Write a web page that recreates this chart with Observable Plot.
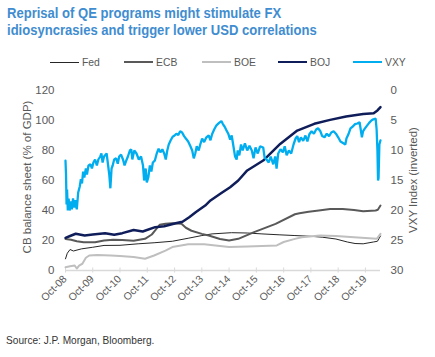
<!DOCTYPE html>
<html><head><meta charset="utf-8">
<script src="https://cdn.jsdelivr.net/npm/d3@7"></script>
<script src="https://cdn.jsdelivr.net/npm/@observablehq/plot@0.6"></script>
<style>
body{margin:0;background:#fff;width:435px;height:357px;position:relative;overflow:hidden;font-family:"Liberation Sans",Arial,sans-serif;}
#title{position:absolute;left:7px;top:5px;font-weight:bold;font-size:15px;line-height:16.5px;color:#3f8dd0;white-space:nowrap;transform:scaleX(0.87);transform-origin:0 0;}
#legend{position:absolute;left:0;top:54px;width:435px;height:16px;}
.li{position:absolute;top:0;height:16px;}
.li .ln{position:absolute;left:0;}
.li .tx{position:absolute;top:1px;font-size:11.5px;color:#595959;line-height:14px;white-space:nowrap;transform:scaleX(0.9);transform-origin:0 0;}
#chart{position:absolute;left:0;top:75px;}
.ytitle{position:absolute;font-size:11.5px;color:#595959;white-space:nowrap;transform:translate(-50%,-50%) rotate(-90deg);}
#caption{position:absolute;left:6px;top:334px;font-size:11px;color:#333;white-space:nowrap;transform:scaleX(0.92);transform-origin:0 0;}
</style></head>
<body>
<div id="title">Reprisal of QE programs might stimulate FX<br>idiosyncrasies and trigger lower USD correlations</div>
<div id="legend"></div>
<div id="chart"></div>
<div class="ytitle" style="left:27px;top:177px;">CB balance sheet (% of GDP)</div>
<div class="ytitle" style="left:413px;top:180px;">VXY Index (inverted)</div>
<div id="caption">Source: J.P. Morgan, Bloomberg.</div>
<script>
const seriesNames = ["Fed", "ECB", "BOE", "BOJ", "VXY"];
const xTickDates = ["2008-10-01","2009-10-01","2010-10-01","2011-10-01","2012-10-01","2013-10-01","2014-10-01","2015-10-01","2016-10-01","2017-10-01","2018-10-01","2019-10-01"];
const leftTicks = [0, 20, 40, 60, 80, 100, 120];
const rightTicks = [0, 5, 10, 15, 20, 25, 30];

const fed = [["2008-10-01",7.8],["2008-10-25",11.5],["2008-12-01",14],["2009-01-15",13],["2009-05-01",14.4],["2009-10-01",15.5],["2010-03-01",16.7],["2010-10-01",16.8],["2011-06-01",17.8],["2012-01-01",18.5],["2012-09-01",19.5],["2013-04-01",21.5],["2013-10-01",23.3],["2014-02-15",24.4],["2014-11-01",25.2],["2015-06-01",25],["2015-12-15",24.4],["2016-08-01",23.8],["2017-03-01",23.3],["2017-10-01",22.8],["2018-03-01",22.2],["2018-09-01",21],["2019-02-01",19],["2019-05-15",18],["2019-09-01",17.8],["2020-01-15",19],["2020-03-10",19.5],["2020-04-20",23]];

const ecb = [["2008-10-01",21],["2008-12-15",20.5],["2009-03-01",19.5],["2009-06-01",18.9],["2009-11-01",18.9],["2010-03-01",20],["2010-07-01",20.5],["2010-11-01",20.4],["2011-04-01",19.8],["2011-09-01",21.1],["2011-12-01",24],["2012-01-15",26.7],["2012-03-15",30.5],["2012-06-01",31.1],["2012-09-01",31.5],["2013-01-01",31.1],["2013-03-01",28.5],["2013-05-15",26.5],["2013-10-01",24.4],["2014-01-01",23.3],["2014-06-01",21],["2014-10-01",20],["2015-02-01",21.1],["2015-09-01",25.6],["2016-06-15",31.1],["2017-03-01",37.5],["2017-05-01",38.2],["2017-09-01",39.2],["2018-01-15",40],["2018-06-15",41],["2018-12-01",41],["2019-05-01",40.4],["2019-09-01",39.5],["2020-02-15",40],["2020-03-15",40.5],["2020-04-20",43.3]];

const boe = [["2008-10-01",2.2],["2008-12-01",2.8],["2009-02-01",3.3],["2009-03-01",1.3],["2009-04-01",3.3],["2009-05-15",4.5],["2009-07-01",8.5],["2009-08-15",10],["2009-12-01",10.3],["2010-06-01",10],["2010-10-01",9.7],["2011-04-01",9],["2011-09-01",7.8],["2012-01-01",10],["2012-06-01",13.3],["2012-09-01",15.6],["2013-04-01",17.5],["2013-11-01",17.5],["2014-10-01",15.6],["2015-06-01",16],["2016-07-01",16.7],["2016-10-01",19],["2017-03-01",21.1],["2017-06-01",22.2],["2018-02-01",23.3],["2018-09-01",23],["2019-05-01",22.2],["2020-03-01",21.1],["2020-04-20",24.4]];

const boj = [["2008-10-01",21.8],["2008-12-01",23],["2009-02-15",24.5],["2009-06-15",23.3],["2009-10-01",24],["2010-03-15",24.9],["2010-07-15",23.8],["2010-11-01",24.9],["2011-04-01",27],["2011-08-01",26],["2012-01-15",28.9],["2012-05-15",29.5],["2012-10-15",31.5],["2013-01-15",32.5],["2013-04-15",35.5],["2013-07-15",39],["2013-11-15",43.3],["2014-01-25",46.7],["2014-06-15",51.5],["2014-10-15",55.5],["2015-02-01",60],["2015-06-01",66.7],["2016-01-01",73.3],["2016-08-15",84.4],["2017-04-01",93.3],["2017-11-15",97.8],["2018-06-15",100.4],["2019-01-15",102.7],["2019-09-01",104.4],["2020-01-20",104.9],["2020-03-10",106.7],["2020-04-20",108.9]];

const vxy = [["2008-10-01",11.7],["2008-10-08",14],["2008-10-15",19],["2008-10-22",16.5],["2008-11-01",20],["2008-11-12",18],["2008-11-25",20],["2008-12-10",18.5],["2008-12-25",19.8],["2009-01-10",18],["2009-01-25",19.5],["2009-02-10",18.3],["2009-03-01",19.8],["2009-03-20",17],["2009-04-10",16],["2009-04-25",14.8],["2009-05-10",15.5],["2009-05-25",13.5],["2009-06-10",14.5],["2009-07-01",13],["2009-07-15",14],["2009-08-05",12.5],["2009-09-01",12.3],["2009-09-20",13],["2009-10-10",12],["2009-11-01",11.5],["2009-11-25",12.5],["2009-12-15",11.5],["2010-01-10",11],["2010-01-25",10.5],["2010-02-10",12],["2010-03-01",11],["2010-04-05",10.5],["2010-05-10",14],["2010-05-25",16.3],["2010-06-10",13],["2010-06-25",12.5],["2010-07-15",11.5],["2010-08-10",11.3],["2010-09-01",12.2],["2010-09-20",11],["2010-10-15",10.7],["2010-11-10",11.5],["2010-12-01",12.5],["2010-12-20",11.8],["2011-01-15",11],["2011-02-10",10],["2011-03-01",9.8],["2011-03-15",11.5],["2011-04-10",10],["2011-05-10",10.5],["2011-06-10",11.5],["2011-07-10",11],["2011-08-05",12.5],["2011-08-20",15],["2011-09-10",13],["2011-09-25",15.3],["2011-10-15",14.5],["2011-11-05",12.5],["2011-11-25",13.5],["2011-12-15",12],["2012-01-10",11.7],["2012-02-05",10.5],["2012-03-01",9.7],["2012-03-25",10.3],["2012-04-20",9.8],["2012-05-15",10.5],["2012-06-05",11.5],["2012-06-25",10],["2012-07-15",9],["2012-08-10",8.3],["2012-09-05",7.7],["2012-10-01",7.5],["2012-10-25",7.2],["2012-11-20",7.4],["2012-12-15",6.8],["2013-01-10",7],["2013-02-05",7.6],["2013-03-01",8],["2013-04-01",8.5],["2013-05-01",9.3],["2013-05-25",10],["2013-06-15",11.3],["2013-07-05",10.5],["2013-07-25",9.3],["2013-08-20",10],["2013-09-10",9],["2013-10-05",8],["2013-11-01",8.6],["2013-12-01",7.8],["2014-01-01",7.5],["2014-01-25",8.3],["2014-02-15",7.3],["2014-03-15",6.5],["2014-04-15",5.8],["2014-05-20",5.4],["2014-06-20",5.1],["2014-07-10",5.6],["2014-08-01",6],["2014-08-25",6.6],["2014-09-20",7.2],["2014-10-15",8.2],["2014-11-05",7.5],["2014-12-01",9.5],["2014-12-20",11],["2015-01-10",11.5],["2015-01-25",10],["2015-02-15",10.8],["2015-03-10",9],["2015-04-01",10],["2015-05-01",8.8],["2015-06-01",10],["2015-07-01",9.2],["2015-08-01",10],["2015-08-25",11.3],["2015-09-20",9.5],["2015-10-20",10.5],["2015-11-20",9.3],["2016-01-01",9.5],["2016-01-20",11.2],["2016-02-15",11.5],["2016-03-15",12],["2016-04-10",11],["2016-05-15",12.3],["2016-06-10",11],["2016-06-28",13],["2016-07-20",10.5],["2016-08-20",9.8],["2016-09-20",10.3],["2016-10-15",9.3],["2016-11-10",10.8],["2016-12-10",10],["2017-01-10",10.5],["2017-02-10",9],["2017-03-10",8],["2017-04-01",7.6],["2017-04-25",8.6],["2017-05-20",7.8],["2017-06-20",8.4],["2017-07-20",7.5],["2017-08-15",8.5],["2017-09-10",7.3],["2017-10-10",6.8],["2017-11-10",7.2],["2017-12-10",6.5],["2018-01-05",6.3],["2018-02-05",6.8],["2018-03-01",7.6],["2018-04-01",7.8],["2018-05-01",7.2],["2018-06-01",7.6],["2018-07-01",7],["2018-08-01",6.8],["2018-09-01",7.2],["2018-10-01",7.8],["2018-11-01",8.5],["2018-12-10",8.8],["2019-01-05",9],["2019-01-20",8],["2019-02-15",7.3],["2019-03-15",6.3],["2019-04-15",6],["2019-05-15",5.6],["2019-06-15",5.5],["2019-07-15",5.3],["2019-08-15",7.8],["2019-08-30",6.8],["2019-09-20",6.4],["2019-10-20",5.9],["2019-11-20",5.4],["2019-12-20",5],["2020-01-15",4.8],["2020-02-15",4.7],["2020-02-28",6.5],["2020-03-10",10],["2020-03-18",15],["2020-03-25",14.6],["2020-04-05",9],["2020-04-20",8.3]];

const colors = {Fed:"#262626", ECB:"#595959", BOE:"#bfbfbf", BOJ:"#0f1d5a", VXY:"#00aef0"};
const widths = {Fed:1, ECB:2, BOE:2, BOJ:2.5, VXY:2.3};
const legendX = {Fed:50, ECB:124, BOE:202, BOJ:278, VXY:353};

const parse = d3.utcParse("%Y-%m-%d");
const rows = (arr) => arr.map(([d, v]) => ({date: parse(d), value: v}));
const vxyToLeft = v => 120 - 4 * v;   // inverted secondary axis: 0..30 -> 120..0
const font = '"Liberation Sans",Arial,sans-serif';

// legend
const leg = document.getElementById("legend");
for (const n of seriesNames) {
  const it = document.createElement("div");
  it.className = "li";
  it.style.left = legendX[n] + "px";
  const ln = document.createElement("div");
  ln.className = "ln";
  ln.style.width = "29px";
  ln.style.height = widths[n] + "px";
  ln.style.top = (8 - widths[n] / 2) + "px";
  ln.style.background = colors[n];
  const tx = document.createElement("div");
  tx.className = "tx";
  tx.style.left = "32px";
  tx.textContent = n;
  it.appendChild(ln); it.appendChild(tx);
  leg.appendChild(it);
}

const tickDates = xTickDates.map(parse);
const chart = Plot.plot({
  width: 435,
  height: 235,
  marginLeft: 65,
  marginRight: 55,
  marginTop: 15,
  marginBottom: 40,
  style: {fontFamily: font, fontSize: "11px", color: "#595959", background: "transparent"},
  x: {type: "utc", domain: [parse("2008-10-01"), parse("2020-04-20")], axis: null},
  y: {domain: [0, 120], axis: null},
  marks: [
    Plot.ruleY([0], {stroke: "#d9d9d9", strokeWidth: 1.5}),
    Plot.ruleX(tickDates, {x: d => d, y1: -1.7, y2: 1.7, stroke: "#d9d9d9", strokeWidth: 1}),
    Plot.text(tickDates, {x: d => d, frameAnchor: "bottom", text: d => d3.utcFormat("%b-%y")(d), rotate: -45, textAnchor: "end", dx: 2, dy: 9, fill: "#595959", fontSize: 10.5}),
    Plot.axisY(leftTicks, {anchor: "left", tickSize: 0, tickPadding: 11, label: null, fill: "#595959", fontSize: 11.5}),
    Plot.axisY(rightTicks.map(vxyToLeft), {anchor: "right", tickSize: 0, tickPadding: 10, label: null, tickFormat: d => String((120 - d) / 4), fill: "#595959", fontSize: 11.5}),
    Plot.line(rows(fed), {x: "date", y: "value", stroke: colors.Fed, strokeWidth: widths.Fed}),
    Plot.line(rows(ecb), {x: "date", y: "value", stroke: colors.ECB, strokeWidth: widths.ECB}),
    Plot.line(rows(boe), {x: "date", y: "value", stroke: colors.BOE, strokeWidth: widths.BOE}),
    Plot.line(rows(boj), {x: "date", y: "value", stroke: colors.BOJ, strokeWidth: widths.BOJ}),
    Plot.line(rows(vxy), {x: "date", y: d => vxyToLeft(d.value), stroke: colors.VXY, strokeWidth: widths.VXY, strokeLinejoin: "miter"})
  ]
});
document.getElementById("chart").appendChild(chart);
</script>
</body></html>
